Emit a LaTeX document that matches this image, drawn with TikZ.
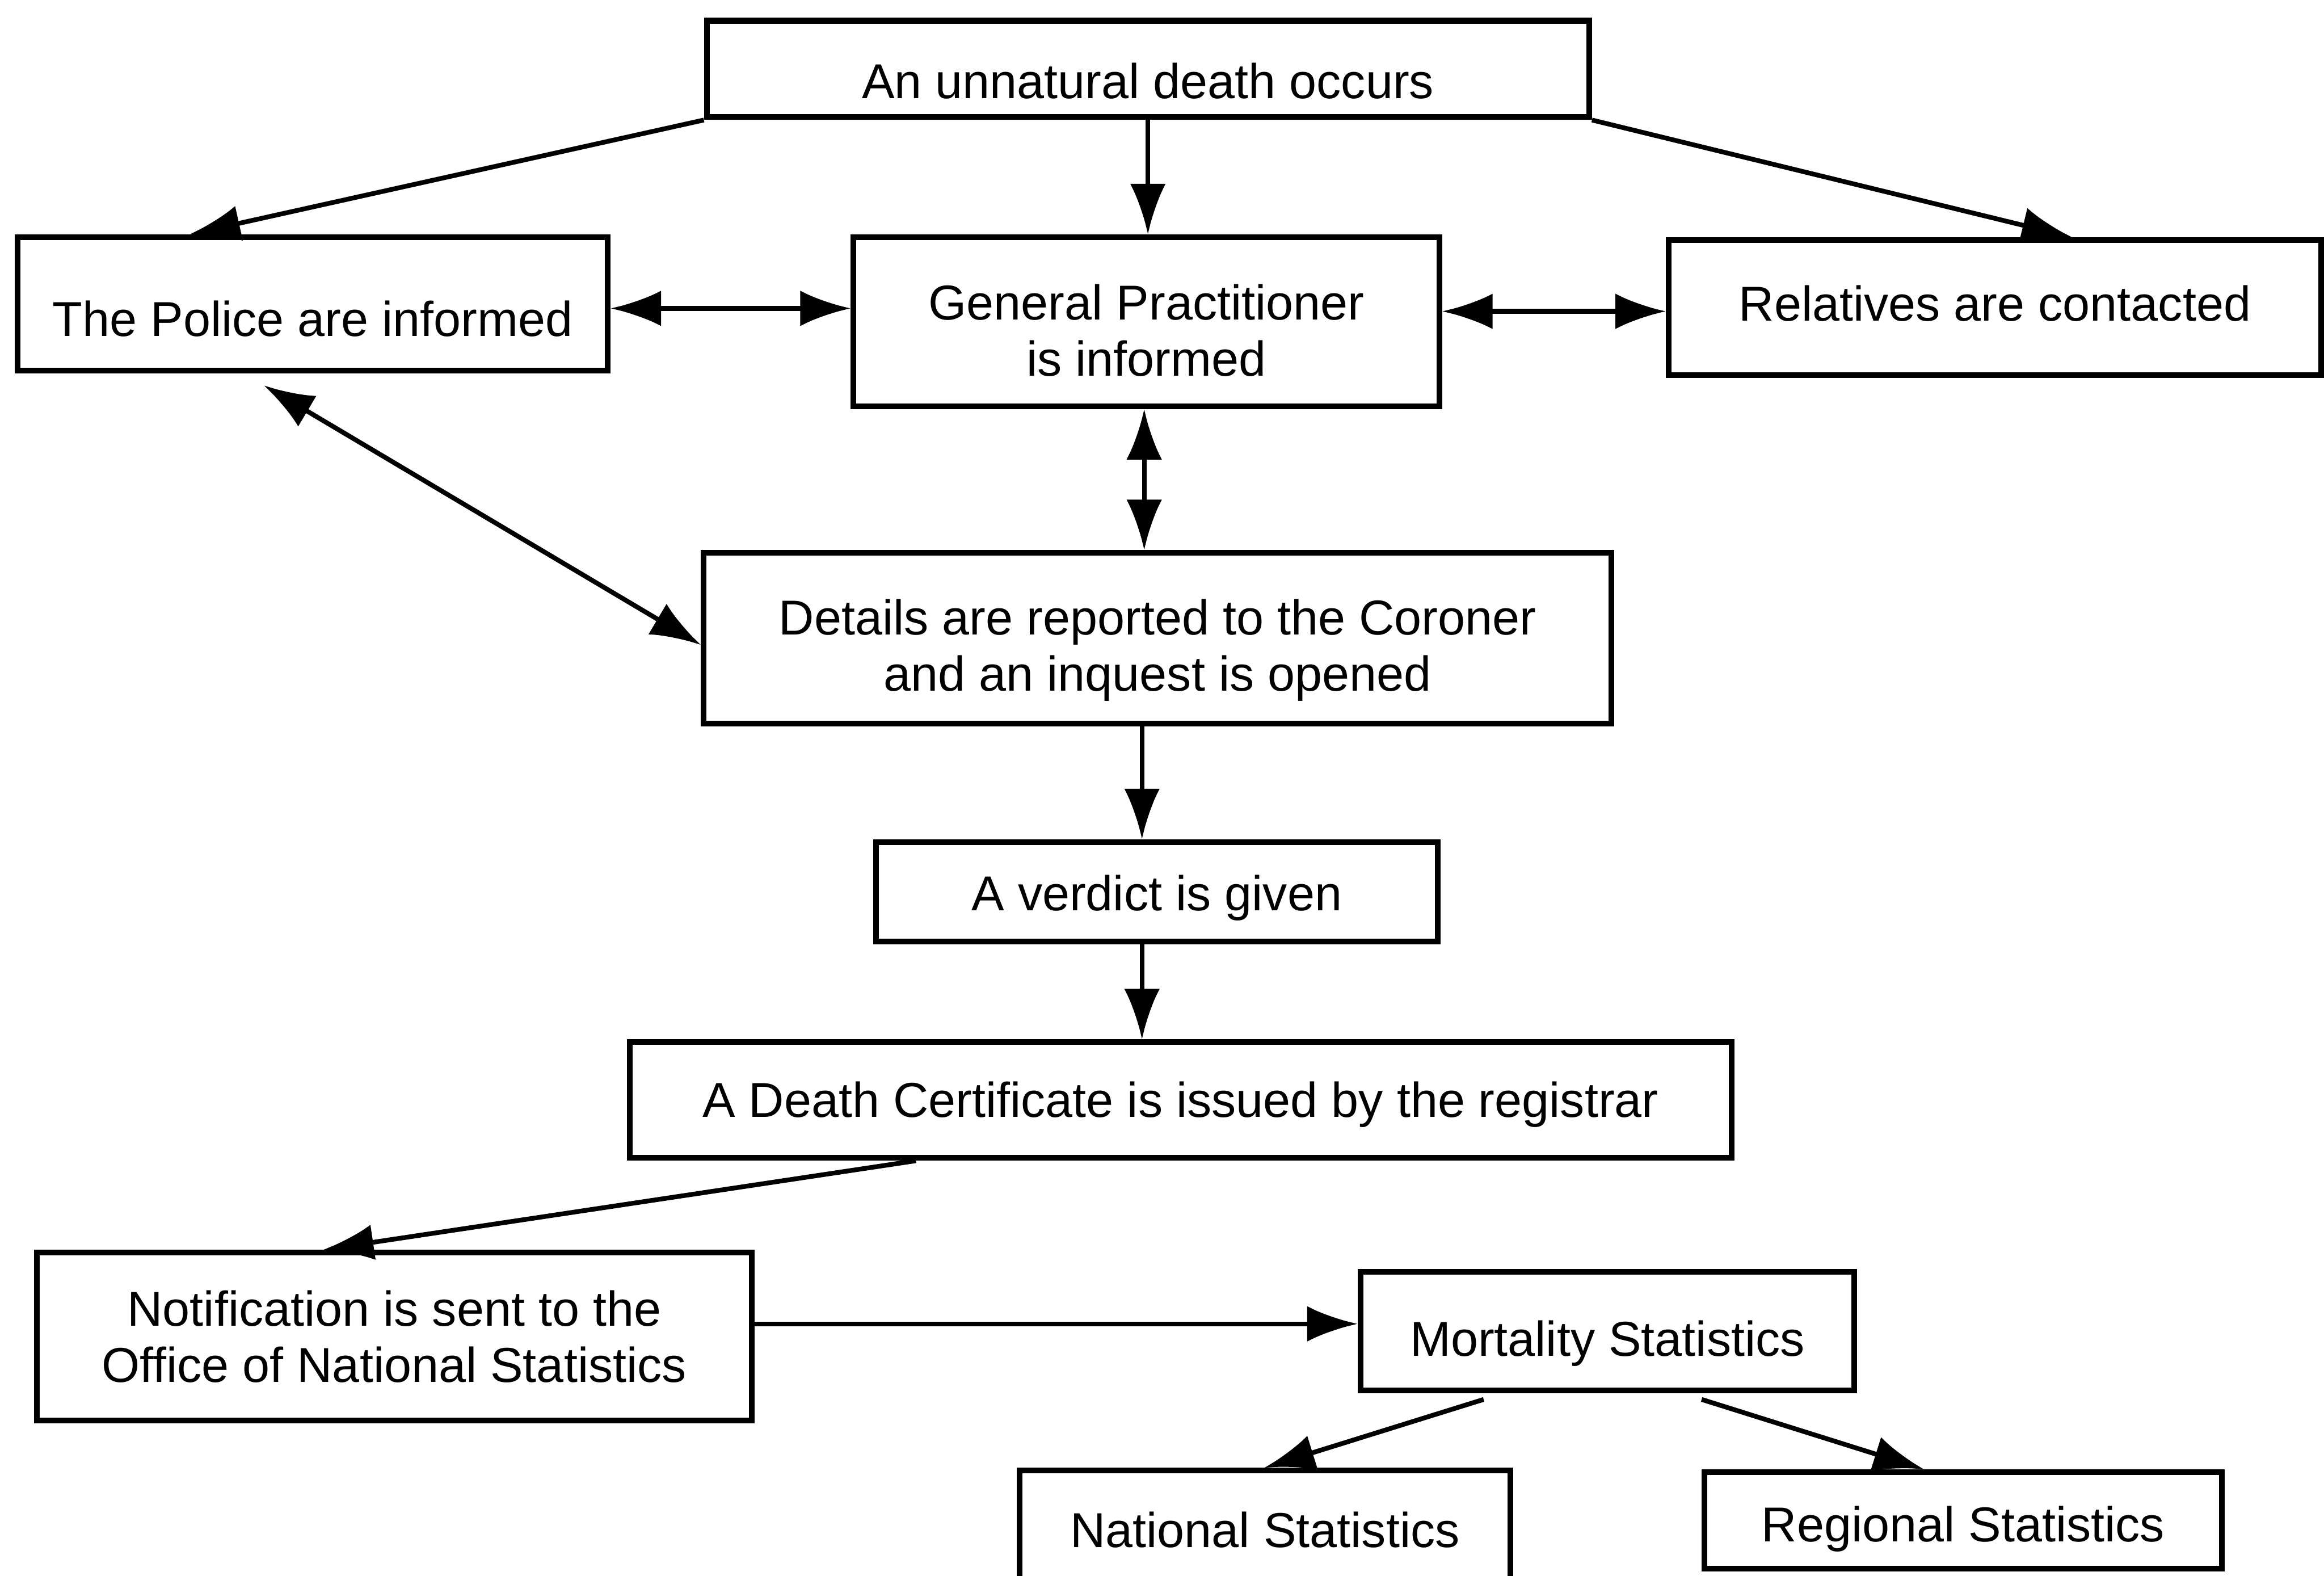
\documentclass[tikz,border=0pt]{standalone}
\usepackage{fontspec}
\setmainfont{Liberation Sans}
\usetikzlibrary{arrows.meta}

\begin{document}
\begin{tikzpicture}[x=0.01cm, y=-0.01cm,
    stage/.style={draw, line width=1.1pt, align=center, inner sep=0pt, font=\fontsize{9.4}{10.8}\selectfont},
    drop/.style={text height=#1},
    flow/.style={-{Latex[length=3.4mm, width=2.4mm]}, line width=0.9pt},
    twoway/.style={{Latex[length=3.4mm, width=2.4mm]}-{Latex[length=3.4mm, width=2.4mm]}, line width=0.9pt}]
                \useasboundingbox (0, 0) rectangle (1568, 1063);
                % Steps
                \node[stage, drop=11.4pt, minimum width=5.95cm, minimum height=0.65cm] (death) at (774.5, 46.5) {An unnatural death occurs};
                
                \node[stage, drop=12.5pt, minimum width=3.98cm, minimum height=0.9cm] (police) at (211, 205) {The Police are informed};
                
                \node[stage, drop=21pt, minimum width=3.95cm, minimum height=1.14cm] (gp) at (773.5, 217) {General Practitioner\\is informed};
                
                \node[stage, drop=5.2pt, minimum width=4.4cm, minimum height=0.91cm] (relatives) at (1346, 207.5) {Relatives are contacted};
                
                \node[stage, drop=22.2pt, minimum width=6.12cm, minimum height=1.15cm] (coroner) at (781, 430.5) {Details are reported to the Coroner\\and an inquest is opened};
                
                \node[stage, drop=9.1pt, minimum width=3.79cm, minimum height=0.67cm] (verdict) at (780.5, 601.5) {A verdict is given};
                
                \node[stage, drop=8.5pt, minimum width=7.43cm, minimum height=0.78cm] (certificate) at (796.5, 742) {A Death Certificate is issued by the registrar};
                
                \node[stage, minimum width=4.82cm, minimum height=1.13cm] (notification) at (266, 901.5) {Notification is sent to the\\Office of National Statistics};
                
                \node[stage, drop=11.4pt, minimum width=3.33cm, minimum height=0.8cm] (mortality) at (1084.5, 898) {Mortality Statistics};
                
                \node[stage, minimum width=3.31cm, minimum height=0.8cm] (national) at (853.5, 1032) {National Statistics};
                
                \node[stage, drop=10.2pt, minimum width=3.49cm, minimum height=0.65cm] (regional) at (1324.5, 1025.5) {Regional Statistics};
                
                % Arrows
                \draw[flow] (death.south west) -- ([xshift=1.18cm]police.north west);
                \draw[flow] (death.south) -- (death.south |- gp.north);
                \draw[flow] (death.south east) -- ([xshift=2.74cm]relatives.north west);
                \draw[twoway] ([yshift=-0.03cm]police.east) -- ([yshift=-0.03cm]police.east -| gp.west);
                \draw[twoway] ([yshift=-0.025cm]relatives.west -| gp.east) -- ([yshift=-0.025cm]relatives.west);
                \draw[twoway] ([xshift=-0.015cm]gp.south) -- ([xshift=-0.015cm]gp.south |- coroner.north);
                \draw[twoway] ([xshift=1.68cm, yshift=-0.08cm]police.south west) -- ([yshift=-0.045cm]coroner.west);
                \draw[flow] ([xshift=-0.1cm]verdict.north |- coroner.south) -- ([xshift=-0.1cm]verdict.north);
                \draw[flow] ([xshift=-0.1cm]verdict.south) -- ([xshift=-0.1cm]verdict.south |- certificate.north);
                \draw[flow] ([xshift=1.95cm]certificate.south west) -- ([xshift=1.95cm]notification.north west);
                \draw[flow] ([yshift=0.085cm]notification.east) -- ([yshift=0.085cm]notification.east -| mortality.west);
                \draw[flow] ([xshift=0.85cm, yshift=-0.04cm]mortality.south west) -- ([xshift=1.67cm]national.north west);
                \draw[flow] ([xshift=2.32cm, yshift=-0.04cm]mortality.south west) -- ([xshift=1.5cm]regional.north west);
            \end{tikzpicture}
\end{document}
